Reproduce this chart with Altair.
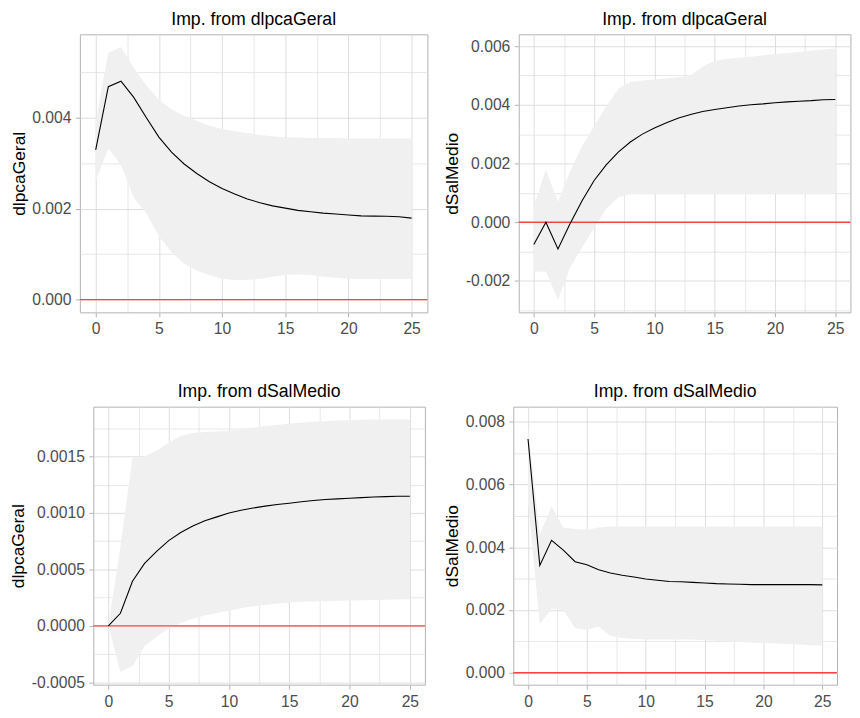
import altair as alt
import pandas as pd

# ---------------- data ----------------
H = list(range(26))

# Panel 1: response of dlpcaGeral to dlpcaGeral (x 1e-3)
irf11 = [3.29, 4.68, 4.80, 4.45, 4.00, 3.57, 3.24, 2.98, 2.77, 2.59, 2.44, 2.32, 2.21,
         2.13, 2.06, 2.01, 1.96, 1.93, 1.90, 1.88, 1.86, 1.84, 1.835, 1.83, 1.82, 1.79]
hi11 = [3.90, 5.43, 5.55, 5.10, 4.71, 4.39, 4.18, 4.04, 3.93, 3.82, 3.75, 3.70, 3.66,
        3.62, 3.59, 3.57, 3.56, 3.55, 3.55, 3.55, 3.54, 3.54, 3.54, 3.54, 3.54, 3.54]
lo11 = [2.60, 3.32, 2.96, 2.25, 1.89, 1.39, 1.04, 0.79, 0.64, 0.54, 0.46, 0.43, 0.43,
        0.46, 0.50, 0.54, 0.55, 0.54, 0.50, 0.48, 0.46, 0.45, 0.45, 0.45, 0.45, 0.45]

# Panel 2: response of dSalMedio to dlpcaGeral (x 1e-3)
irf21 = [-0.76, 0.00, -0.91, -0.05, 0.73, 1.42, 1.95, 2.39, 2.73, 3.00, 3.21, 3.39, 3.55,
         3.67, 3.77, 3.84, 3.90, 3.96, 4.00, 4.03, 4.07, 4.10, 4.12, 4.14, 4.17, 4.18]
hi21 = [0.55, 1.78, 0.70, 1.73, 2.60, 3.28, 3.94, 4.55, 4.78, 4.83, 4.86, 4.90, 4.94,
        5.00, 5.30, 5.50, 5.56, 5.60, 5.64, 5.68, 5.72, 5.76, 5.80, 5.84, 5.88, 5.92]
lo21 = [-1.70, -1.68, -2.65, -1.55, -0.85, -0.20, 0.45, 0.85, 0.95, 0.97, 0.97, 0.97, 0.97,
        0.97, 0.97, 0.97, 0.97, 0.97, 0.97, 0.97, 0.97, 0.97, 0.97, 0.97, 0.97, 0.97]

# Panel 3: response of dlpcaGeral to dSalMedio (x 1e-4)
irf12 = [0.00, 1.12, 3.95, 5.53, 6.60, 7.55, 8.27, 8.85, 9.31, 9.65, 10.00, 10.23, 10.43,
         10.60, 10.75, 10.86, 10.98, 11.10, 11.18, 11.24, 11.30, 11.35, 11.41, 11.44, 11.47, 11.47]
hi12 = [0.00, 7.00, 14.90, 15.00, 15.50, 16.20, 16.80, 17.06, 17.15, 17.20, 17.26, 17.40, 17.55,
        17.70, 17.78, 17.90, 17.98, 18.07, 18.12, 18.17, 18.20, 18.25, 18.27, 18.27, 18.27, 18.27]
lo12 = [0.00, -4.06, -3.54, -1.80, -0.95, -0.23, 0.26, 0.63, 0.92, 1.15, 1.35, 1.56, 1.73,
        1.87, 1.99, 2.07, 2.13, 2.16, 2.19, 2.22, 2.25, 2.28, 2.30, 2.32, 2.34, 2.36]

# Panel 4: response of dSalMedio to dSalMedio (x 1e-3)
irf22 = [7.45, 3.42, 4.22, 3.91, 3.54, 3.44, 3.28, 3.18, 3.11, 3.05, 2.99, 2.95, 2.91,
         2.90, 2.88, 2.86, 2.84, 2.83, 2.82, 2.81, 2.81, 2.81, 2.81, 2.81, 2.81, 2.80]
hi22 = [7.85, 4.40, 5.30, 4.63, 4.58, 4.56, 4.63, 4.66, 4.66, 4.66, 4.66, 4.66, 4.66,
        4.66, 4.66, 4.66, 4.66, 4.66, 4.66, 4.66, 4.66, 4.66, 4.66, 4.66, 4.66, 4.66]
lo22 = [5.45, 1.55, 2.04, 2.00, 1.42, 1.37, 1.47, 1.18, 1.11, 1.08, 1.06, 1.06, 1.06,
        1.06, 1.06, 1.04, 1.02, 1.00, 0.98, 0.96, 0.95, 0.94, 0.92, 0.90, 0.88, 0.87]

ZERO = [0.0]

X_TICKS = [0, 2.5, 5, 7.5, 10, 12.5, 15, 17.5, 20, 22.5, 25]   # labelled every 5
Y1_TICKS = [0.0, 0.001, 0.002, 0.003, 0.004, 0.005]            # labelled every 0.002
Y2_TICKS = [-0.003, -0.002, -0.001, 0.0, 0.001, 0.002, 0.003, 0.004, 0.005, 0.006]
Y3_TICKS = [-0.0005, -0.00025, 0.0, 0.00025, 0.0005, 0.00075, 0.001, 0.00125, 0.0015, 0.00175]
Y4_TICKS = [0.0, 0.001, 0.002, 0.003, 0.004, 0.005, 0.006, 0.007, 0.008]

FONT = "Liberation Sans"
GRID = "#DEDEDE"
BORDER = "#B3B3B3"
LABEL = "#4D4D4D"
LBL_SIZE = 15.8
PANEL_H = 280


def major_test(step):
    return f"abs(datum.value / {step} - round(datum.value / {step})) < 0.001"


def panel(line, lo, hi, unit, ydom, yticks, ystep, fmt, title, ytitle, w, ext):
    df = pd.DataFrame({
        "h": H,
        "irf": [v * unit for v in line],
        "lo": [v * unit for v in lo],
        "hi": [v * unit for v in hi],
    })
    zdf = pd.DataFrame({"z": ZERO})

    xmaj = major_test(5)
    xaxis = alt.Axis(
        values=X_TICKS, tickCount=len(X_TICKS), title=None, domain=False,
        labelExpr=f"({xmaj}) ? format(datum.value, 'd') : ''",
        labelFont=FONT, labelFontSize=LBL_SIZE, labelColor=LABEL,
        labelPadding=5, labelOverlap=False, labelFlush=False,
        tickColor=BORDER, tickSize=4.5,
        tickOpacity={"condition": {"test": xmaj, "value": 1}, "value": 0},
        grid=True, gridColor=GRID,
        gridWidth={"condition": {"test": xmaj, "value": 1}, "value": 0.7},
    )
    ymaj = major_test(ystep)
    yaxis = alt.Axis(
        values=yticks, tickCount=len(yticks), title=ytitle, domain=False,
        labelExpr=(f"({ymaj}) ? replace(format(datum.value, '{fmt}'), '\u2212', '-') : ''"),
        labelFont=FONT, labelFontSize=LBL_SIZE, labelColor=LABEL,
        labelPadding=4.5, labelOverlap=False, labelFlush=False,
        tickColor=BORDER, tickSize=4.5,
        tickOpacity={"condition": {"test": ymaj, "value": 1}, "value": 0},
        grid=True, gridColor=GRID,
        gridWidth={"condition": {"test": ymaj, "value": 1}, "value": 0.7},
        titleFont=FONT, titleFontSize=17.5, titleFontWeight="normal", titleColor="black",
        titlePadding=5.5, minExtent=ext, maxExtent=ext,
    )
    xs = alt.Scale(domain=[-1.25, 26.25], nice=False, zero=False)
    ys = alt.Scale(domain=ydom, nice=False, zero=False)
    X = alt.X("h:Q", scale=xs, axis=xaxis)

    band = alt.Chart(df).mark_area(color="#F0F0F0", opacity=1).encode(
        x=X, y=alt.Y("lo:Q", scale=ys, axis=yaxis), y2="hi:Q",
    )
    rule = alt.Chart(zdf).mark_rule(color="#FF4040", strokeWidth=1.4).encode(
        y=alt.Y("z:Q", scale=ys, axis=yaxis),
    )
    ln = alt.Chart(df).mark_line(color="black", strokeWidth=1.1).encode(
        x=X, y=alt.Y("irf:Q", scale=ys, axis=yaxis),
    )
    return alt.layer(band, rule, ln).properties(
        width=w, height=PANEL_H,
        title=alt.TitleParams(
            text=title, font=FONT, fontSize=17.8, fontWeight="normal", color="black",
            anchor="middle", frame="group", offset=6,
        ),
    )


p1 = panel(irf11, lo11, hi11, 1e-3, [-0.00028, 0.00583], Y1_TICKS, 0.002, ".3f",
           "Imp. from dlpcaGeral", "dlpcaGeral", 350, 46)
p2 = panel(irf21, lo21, hi21, 1e-3, [-0.00307, 0.00640], Y2_TICKS, 0.002, ".3f",
           "Imp. from dlpcaGeral", "dSalMedio", 334, 52)
p3 = panel(irf12, lo12, hi12, 1e-4, [-0.00052, 0.00194], Y3_TICKS, 0.0005, ".4f",
           "Imp. from dSalMedio", "dlpcaGeral", 334, 61)
p4 = panel(irf22, lo22, hi22, 1e-3, [-0.00038, 0.00848], Y4_TICKS, 0.002, ".3f",
           "Imp. from dSalMedio", "dSalMedio", 326, 47)

row1 = alt.hconcat(p1, p2, spacing=14)
row2 = alt.hconcat(p3, p4, spacing=16)

chart = alt.vconcat(row1, row2, spacing=45, center=True).properties(
    padding={"left": 0, "top": -1, "right": 0, "bottom": 0},
    background="white",
).configure_view(
    stroke=BORDER, strokeWidth=1,
)

chart.save("out.html", embed_options={"renderer": "svg", "actions": False})
